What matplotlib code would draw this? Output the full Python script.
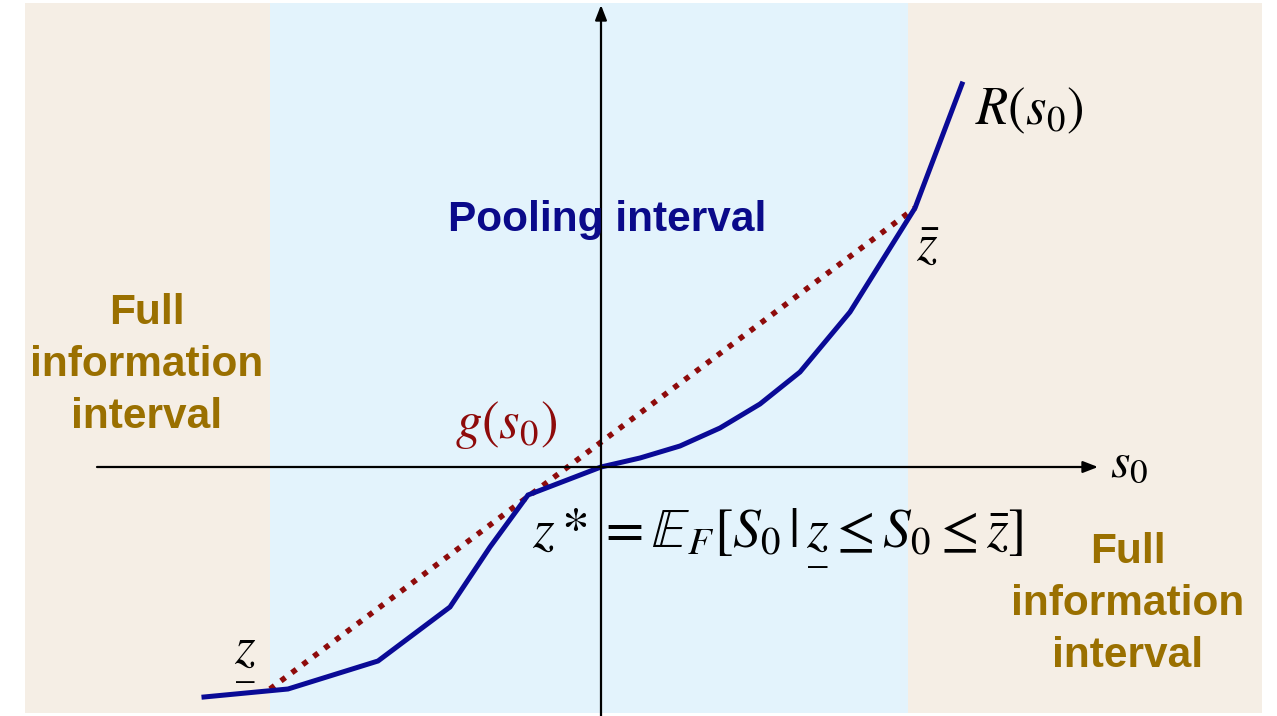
import matplotlib
matplotlib.use("Agg")
import matplotlib.pyplot as plt

plt.rcParams["mathtext.fontset"] = "stix"

# kinked payoff curve R(s0), in axis units (origin at the axes cross)
r_x = [-3.97, -3.13, -2.23, -1.51, -1.11, -0.73, 0.0, 0.39, 0.79, 1.19, 1.59, 1.99, 2.49, 3.14, 3.61]
r_y = [-2.30, -2.22, -1.94, -1.40, -0.80, -0.28, 0.0, 0.09, 0.21, 0.39, 0.63, 0.95, 1.55, 2.59, 3.83]

# concavified line g(s0) between the two cut-offs
g_x = [-3.31, 3.14]
g_y = [-2.22, 2.59]

# shaded intervals: (left, right)
full_left = (-5.76, -3.31)
pooling = (-3.31, 3.07)
full_right = (3.07, 6.61)

beige = "#f5eee5"
light_blue = "#e3f3fc"
navy = "#0a0a96"
dark_red = "#8e0b0b"
gold = "#9a7000"

zlow = r"\underset{\_}{z}"

fig = plt.figure(figsize=(12.77, 7.16), dpi=100)
ax = fig.add_axes([0, 0, 1, 1])
ax.set_xlim(-6.01, 6.76)
ax.set_ylim(-2.49, 4.67)
ax.axis("off")

ax.axvspan(*full_left, ymin=0.004, ymax=0.996, color=beige, lw=0)
ax.axvspan(*pooling, ymin=0.004, ymax=0.996, color=light_blue, lw=0)
ax.axvspan(*full_right, ymin=0.004, ymax=0.996, color=beige, lw=0)

# axes with arrows
ax.annotate("", xy=(4.97, 0), xytext=(-5.04, 0),
            arrowprops=dict(arrowstyle="-|>,head_length=0.9,head_width=0.35", lw=1.6, color="black",
                            shrinkA=0, shrinkB=0))
ax.annotate("", xy=(0, 4.62), xytext=(0, -2.49),
            arrowprops=dict(arrowstyle="-|>,head_length=0.9,head_width=0.35", lw=1.6, color="black",
                            shrinkA=0, shrinkB=0))

ax.plot(g_x, g_y, color=dark_red, lw=4, linestyle=(0, (1, 1.45)), solid_capstyle="butt")
ax.plot(r_x, r_y, color=navy, lw=3.6, solid_joinstyle="miter")

ax.text(0.06, 2.47, "Pooling interval", color="#0a0a8a", fontsize=30.5, fontweight="bold",
        family="Liberation Sans", ha="center", va="center")
ax.text(-4.54, 1.02, "Full\ninformation\ninterval", color=gold, fontsize=30.5, fontweight="bold",
        family="Liberation Sans", ha="center", va="center", linespacing=1.39)
ax.text(5.27, -1.37, "Full\ninformation\ninterval", color=gold, fontsize=30.5, fontweight="bold",
        family="Liberation Sans", ha="center", va="center", linespacing=1.39)

ax.text(5.09, 0.05, r"$s_0$", fontsize=36, ha="left", va="center")
ax.text(3.74, 3.57, r"$R(s_0)$", fontsize=38, ha="left", va="center")
ax.text(3.27, 2.22, r"$\bar{z}$", fontsize=38, ha="center", va="center")
ax.text(-3.56, -1.93, "$" + zlow + "$", fontsize=38, ha="center", va="center")
ax.text(-1.46, 0.42, r"$g(s_0)$", fontsize=38, color=dark_red, ha="left", va="center")
ax.text(-0.69, -0.72, r"$z* = \mathbb{E}_F[S_0\,|\," + zlow + r" \leq S_0 \leq \bar{z}]$",
        fontsize=40, ha="left", va="center")

fig.savefig("out.png", dpi=100, facecolor="white")
